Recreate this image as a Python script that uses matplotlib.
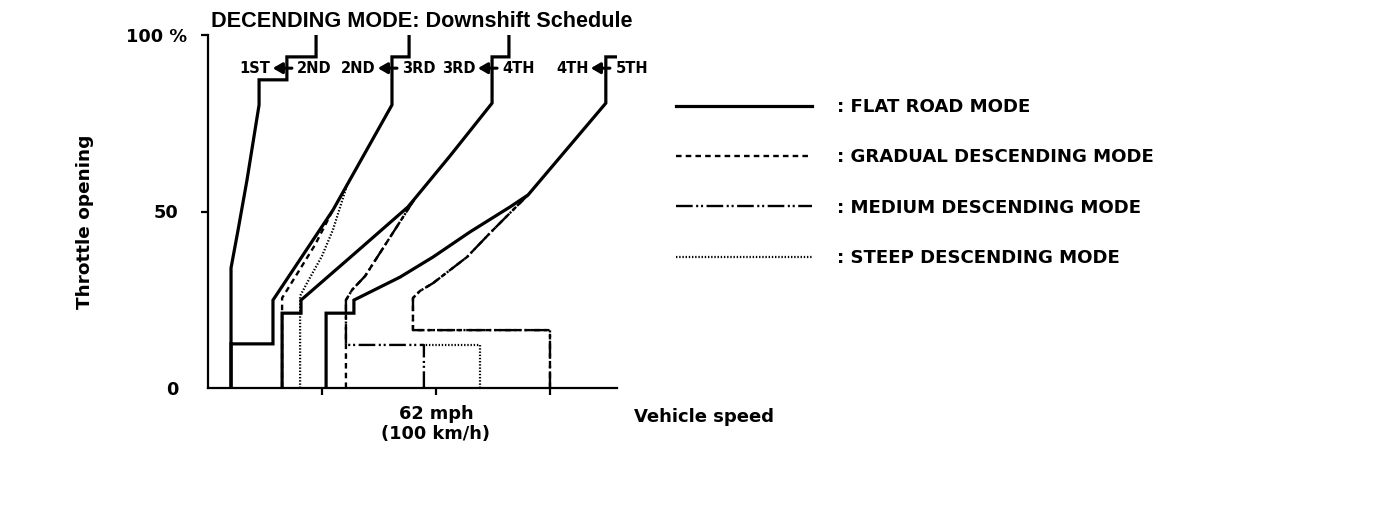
import matplotlib
matplotlib.use("Agg")
import matplotlib.pyplot as plt
import matplotlib.transforms as mtransforms

plt.rcParams['font.family'] = ['DejaVu Sans']
plt.rcParams['font.weight'] = 'bold'
plt.rcParams['lines.scale_dashes'] = False

# ---- data (x: vehicle speed km/h, y: throttle opening %) ----
flat_12_x = [10.1, 10.1, 13.2, 17.1, 22.4, 22.4, 34.6, 34.6, 47.4, 47.4]
flat_12_y = [0, 34.0, 44.8, 58.9, 80.2, 87.3, 87.3, 93.8, 93.8, 100]
flat_23_x = [10.1, 10.1, 28.5, 28.5, 54.8, 80.7, 80.7, 88.2, 88.2]
flat_23_y = [0, 12.5, 12.5, 24.9, 50.4, 80.2, 93.8, 93.8, 100]
flat_34_x = [32.5, 32.5, 40.8, 40.8, 64.5, 87.7, 106.1, 124.6, 124.6, 132.0, 132.0]
flat_34_y = [0, 21.2, 21.2, 24.9, 38.2, 51.3, 65.7, 80.7, 93.8, 93.8, 100]
flat_45_x = [51.8, 51.8, 64.0, 64.0, 84.2, 98.7, 114.9, 132.5, 140.4, 174.5, 174.5, 179.4]
flat_45_y = [0, 21.2, 21.2, 24.9, 31.4, 37.1, 44.2, 51.3, 54.7, 80.7, 93.8, 93.8]

grad_23_x = [32.5, 32.5, 35.5, 46.9, 54.8]
grad_23_y = [0, 25.5, 28.6, 40.5, 50.4]
grad_34_x = [60.5, 60.5, 63.2, 68.9, 90.4]
grad_34_y = [0, 24.9, 27.8, 31.7, 53.3]
grad_45_x = [150.0, 150.0, 89.9, 89.9, 93.0, 98.7, 113.6, 123.7, 132.5, 140.4]
grad_45_y = [0, 16.4, 16.4, 25.5, 27.5, 29.7, 37.1, 43.9, 49.6, 54.7]

med_34_x = [94.7, 94.7, 60.5, 60.5, 63.2, 68.9, 90.4]
med_34_y = [0, 12.2, 12.2, 24.9, 27.8, 31.7, 53.3]
med_45_x = [150.0, 150.0, 89.9, 89.9, 93.0, 98.7, 113.6, 123.7, 132.5, 140.4]
med_45_y = [0, 16.4, 16.4, 25.5, 27.5, 29.7, 37.1, 43.9, 49.6, 54.7]

steep_23_x = [40.4, 40.4, 43.4, 50.0, 54.8, 61.0]
steep_23_y = [0, 26.1, 29.7, 37.4, 44.8, 57.5]
steep_34_x = [119.3, 119.3, 94.7]
steep_34_y = [0, 12.2, 12.2]

# shift arrows: position of the step line (km/h), gear labels
arrow_y = 90.6
arrow_line_x = [34.6, 80.7, 124.6, 174.1]
arrow_left_labels = ['1ST', '2ND', '3RD', '4TH']
arrow_right_labels = ['2ND', '3RD', '4TH', '5TH']

legend_labels = [': FLAT ROAD MODE', ': GRADUAL DESCENDING MODE',
                 ': MEDIUM DESCENDING MODE', ': STEEP DESCENDING MODE']

y_ticks = [0, 50, 100]
y_ticklabels = ['0', '50', '100 %']
x_ticks = [50, 100, 150]
x_ticklabels = ['', '62 mph\n(100 km/h)', '']

# ---- figure ----
W, H = 1376, 520
fig = plt.figure(figsize=(W / 100, H / 100), dpi=100)
ax = fig.add_axes([208 / W, 1 - 388 / H, (617 - 208) / W, (388 - 35) / H])
ax.set_xlim(0, 179.4)
ax.set_ylim(0, 100)

solid = dict(color='black', lw=2.3, ls='-', solid_joinstyle='miter')
dashed = dict(color='black', lw=1.7, ls=(0, (4, 3)))
dashdot = dict(color='black', lw=1.7, ls=(0, (12, 2.5, 1.5, 2, 1.5, 2.5)))
dotted = dict(color='black', lw=1.6, ls=(0, (1, 1.3)))

l_flat, = ax.plot(flat_12_x, flat_12_y, **solid)
ax.plot(flat_23_x, flat_23_y, **solid)
ax.plot(flat_34_x, flat_34_y, **solid)
ax.plot(flat_45_x, flat_45_y, **solid)

l_grad, = ax.plot(grad_23_x, grad_23_y, **dashed)
ax.plot(grad_34_x, grad_34_y, **dashed)
ax.plot(grad_45_x, grad_45_y, **dashed)

l_med, = ax.plot(med_34_x, med_34_y, **dashdot)
ax.plot(med_45_x, med_45_y, **dashdot)

l_steep, = ax.plot(steep_23_x, steep_23_y, **dotted)
ax.plot(steep_34_x, steep_34_y, **dotted)

for lx, lab_l, lab_r in zip(arrow_line_x, arrow_left_labels, arrow_right_labels):
    ax.annotate('', xy=(lx - 6.2, arrow_y), xytext=(lx + 2.2, arrow_y),
                arrowprops=dict(arrowstyle='-|>,head_length=0.55,head_width=0.32',
                                lw=2.2, color='black', shrinkA=0, shrinkB=0),
                annotation_clip=False)
    ax.annotate(lab_l, xy=(lx - 6.2, arrow_y), xytext=(-1.5, 0),
                textcoords='offset points', ha='right', va='center',
                fontsize=10.5, fontweight='bold', annotation_clip=False)
    ax.annotate(lab_r, xy=(lx, arrow_y), xytext=(7.5, 0),
                textcoords='offset points', ha='left', va='center',
                fontsize=10.5, fontweight='bold', annotation_clip=False)

for s in ['top', 'right']:
    ax.spines[s].set_visible(False)
for s in ['left', 'bottom']:
    ax.spines[s].set_linewidth(1.6)

ax.set_yticks(y_ticks)
ax.set_yticklabels(y_ticklabels, fontsize=12.8, fontweight='bold')
ax.set_xticks(x_ticks)
ax.set_xticklabels(x_ticklabels, fontsize=12.8, fontweight='bold', linespacing=1.2)
ax.tick_params(axis='both', direction='out', length=5, width=1.6, pad=7)
ax.tick_params(axis='y', pad=16.5)
ax.yaxis.get_major_ticks()[0].tick1line.set_visible(False)

# nudge the "100 %" label to the right like the original
lab100 = ax.get_yticklabels()[2]
lab100.set_transform(lab100.get_transform() +
                     mtransforms.ScaledTranslation(6.5 / 72, 0, fig.dpi_scale_trans))

ax.set_ylabel('Throttle opening', fontsize=13.3, fontweight='bold', va='center')
ax.yaxis.set_label_coords((85 - 208) / 409, (388 - 222) / 353)
ax.set_xlabel('Vehicle speed', fontsize=13, fontweight='bold', ha='left', va='center')
ax.xaxis.set_label_coords((634 - 208) / 409, (388 - 417) / 353)

fig.text(211 / W, 1 - 27 / H, 'DECENDING MODE: Downshift Schedule',
         fontsize=15.6, fontweight='bold', ha='left', va='baseline',
         family=['Liberation Sans', 'DejaVu Sans'])

leg = ax.legend([l_flat, l_grad, l_med, l_steep], legend_labels,
                loc='center left', bbox_to_anchor=(676 / W, 1 - 182.5 / H),
                bbox_transform=fig.transFigure, frameon=False,
                borderpad=0, borderaxespad=0, handlelength=136 / 18.2,
                handletextpad=1.4, labelspacing=1.78,
                prop=dict(family=['DejaVu Sans'], weight='bold', size=13.1))

fig.savefig('out.png', dpi=100, facecolor='white')
